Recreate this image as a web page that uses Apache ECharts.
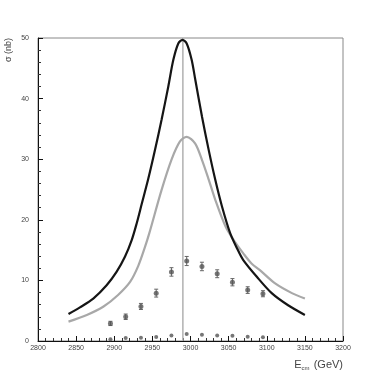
<!DOCTYPE html>
<html>
<head>
<meta charset="utf-8">
<script src="https://cdn.jsdelivr.net/npm/echarts@6/dist/echarts.min.js"></script>
<style>
  html, body { margin: 0; padding: 0; background: #fff; }
  #chart { width: 382px; height: 380px; }
</style>
</head>
<body>
<div id="chart"></div>
<script>
// black curve
const blackE = [2840, 2855, 2872.5, 2890, 2903, 2914, 2923, 2929.4, 2936, 2944.7, 2953.4, 2962.2, 2970.9, 2977.5, 2984, 2989.5, 2995, 3001.5, 3006.3, 3015.1, 3023.9, 3032.5, 3041.3, 3052, 3061, 3069, 3087, 3106.5, 3128, 3150];
const blackV = [4.45, 5.55, 7.0, 9.2, 11.4, 13.9, 16.7, 19.4, 22.6, 26.8, 31.5, 36.6, 42, 46.4, 49.1, 49.7, 49.1, 46.4, 43.1, 37, 31.5, 26.6, 22.2, 17.8, 15.3, 13.4, 10.6, 7.9, 5.9, 4.3];

// grey curve
const greyE = [2840, 2864, 2886, 2905, 2921, 2931.5, 2940, 2946, 2962, 2975, 2986, 2995, 3006, 3015, 3024, 3032.5, 3046, 3058, 3069, 3080, 3091, 3111, 3133, 3150];
const greyV = [3.2, 4.3, 5.7, 7.6, 9.8, 12.4, 15.4, 17.8, 24.9, 29.9, 32.9, 33.7, 32.6, 29.9, 26.6, 23.3, 18.9, 16.4, 14.5, 12.8, 11.7, 9.5, 7.9, 7.0];

// measured points
const ptE = [2895, 2915, 2935, 2955, 2975, 2995, 3015, 3035, 3055, 3075, 3095];
const ptV = [2.9, 4.0, 5.7, 7.9, 11.4, 13.2, 12.3, 11.1, 9.7, 8.4, 7.8];
const ptErr = [0.35, 0.45, 0.5, 0.65, 0.7, 0.75, 0.7, 0.65, 0.6, 0.55, 0.5];
const lowV = [0.3, 0.5, 0.55, 0.65, 0.9, 1.15, 1.05, 0.9, 0.85, 0.7, 0.6];

const peakE = 2990;

const font = 'Liberation Sans';
const zip = (a, b) => a.map((x, i) => [x, b[i]]);

const chart = echarts.init(document.getElementById('chart'));
chart.setOption({
  animation: false,
  backgroundColor: '#fff',
  grid: { left: 38, right: 39, top: 38, bottom: 39, show: true, borderColor: '#888', borderWidth: 1 },
  xAxis: {
    type: 'value', min: 2800, max: 3200, interval: 50,
    axisLine: { lineStyle: { color: '#111', width: 1 } },
    axisTick: { inside: true, length: 5, lineStyle: { color: '#111' } },
    minorTick: { show: true, splitNumber: 5, length: 3, lineStyle: { color: '#333' } },
    splitLine: { show: false },
    axisLabel: { color: '#444', fontSize: 7, fontFamily: font, margin: 4, formatter: v => String(v) },
    name: '{a|E}{b|cm}{a| (GeV)}',
    nameLocation: 'end',
    nameGap: 0,
    nameTextStyle: {
      align: 'right', verticalAlign: 'top', padding: [17, 0, 0, 0],
      rich: {
        a: { fontSize: 11, fontFamily: font, color: '#444' },
        b: { fontSize: 6, fontFamily: font, color: '#444', verticalAlign: 'bottom', padding: [7, 1, 0, 0] }
      }
    }
  },
  yAxis: {
    type: 'value', min: 0, max: 50, interval: 10,
    axisLine: { lineStyle: { color: '#111', width: 1 } },
    axisTick: { inside: true, length: 5, lineStyle: { color: '#111' } },
    minorTick: { show: true, splitNumber: 5, length: 3, lineStyle: { color: '#333' } },
    splitLine: { show: false },
    axisLabel: { color: '#444', fontSize: 7, fontFamily: font, margin: 9 },
    name: 'σ (nb)',
    nameLocation: 'end',
    nameRotate: 90,
    nameGap: 0,
    nameTextStyle: { fontSize: 9, fontFamily: font, color: '#444', align: 'right', verticalAlign: 'bottom', padding: [0, 0, 25, 0] }
  },
  series: [
    {
      type: 'line', data: [[peakE, 0], [peakE, 50]], showSymbol: false,
      lineStyle: { color: '#b0b0b0', width: 1.5 }, z: 1
    },
    {
      type: 'line', data: zip(greyE, greyV), smooth: 0.3, showSymbol: false,
      lineStyle: { color: '#a8a8a8', width: 2.2 }, z: 2
    },
    {
      type: 'line', data: zip(blackE, blackV), smooth: 0.3, showSymbol: false,
      lineStyle: { color: '#151515', width: 2.2 }, z: 3
    },
    {
      type: 'custom',
      data: ptE.map((e, i) => [e, ptV[i] - ptErr[i], ptV[i] + ptErr[i]]),
      renderItem: (params, api) => {
        const lo = api.coord([api.value(0), api.value(1)]);
        const hi = api.coord([api.value(0), api.value(2)]);
        const st = { stroke: '#666', lineWidth: 1 };
        return {
          type: 'group',
          children: [
            { type: 'line', shape: { x1: lo[0], y1: lo[1], x2: hi[0], y2: hi[1] }, style: st },
            { type: 'line', shape: { x1: lo[0] - 2, y1: lo[1], x2: lo[0] + 2, y2: lo[1] }, style: st },
            { type: 'line', shape: { x1: hi[0] - 2, y1: hi[1], x2: hi[0] + 2, y2: hi[1] }, style: st }
          ]
        };
      },
      z: 4
    },
    {
      type: 'scatter', data: zip(ptE, ptV), symbol: 'circle', symbolSize: 5,
      itemStyle: { color: '#555' }, z: 5
    },
    {
      type: 'scatter', data: zip(ptE, lowV), symbol: 'circle', symbolSize: 4,
      itemStyle: { color: '#555' }, z: 5
    }
  ]
});
</script>
</body>
</html>
